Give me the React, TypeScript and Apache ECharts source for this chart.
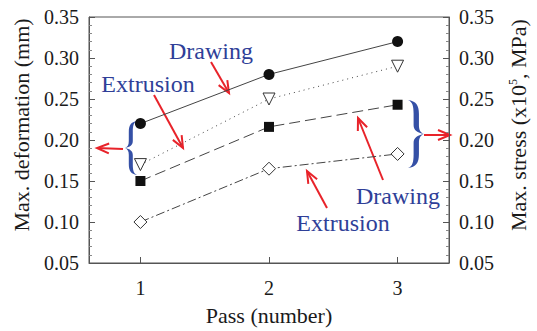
import React, { useEffect, useRef } from "react";
import * as echarts from "echarts";

// Pass numbers and measured values
const passes = [1, 2, 3];
const drawingDeformation = [0.22, 0.28, 0.32];
const extrusionDeformation = [0.17, 0.25, 0.29];
const drawingStress = [0.15, 0.216, 0.243];
const extrusionStress = [0.1, 0.165, 0.183];

const SERIF = "Liberation Serif";
const BLUE = "#2f3f98";
const BRACE = "#3550a6";
const RED = "#e8232a";
const INK = "#1a1a1a";
const LINE = "#555555";

// Curly braces drawn as filled outlines (12 x 54 unit box)
const BRACE_LEFT =
  "M12 0 C6 1 3.8 4 3.8 11 L3.8 20 C3.8 24 2.5 26 0 27 C2.5 28 3.8 30 3.8 34 L3.8 43 C3.8 50 6 53 12 54 C8.5 52.5 7.8 49 7.8 43 L7.8 34 C7.8 30 5 28 0 27 C5 26 7.8 24 7.8 20 L7.8 11 C7.8 5 8.5 1.5 12 0 Z";
const BRACE_RIGHT =
  "M0 0 C6 1 8.2 4 8.2 11 L8.2 20 C8.2 24 9.5 26 12 27 C9.5 28 8.2 30 8.2 34 L8.2 43 C8.2 50 6 53 0 54 C3.5 52.5 4.2 49 4.2 43 L4.2 34 C4.2 30 7 28 12 27 C7 26 4.2 24 4.2 20 L4.2 11 C4.2 5 3.5 1.5 0 0 Z";
echarts.graphic.registerShape("braceLeft", echarts.graphic.extendPath(BRACE_LEFT, {}));
echarts.graphic.registerShape("braceRight", echarts.graphic.extendPath(BRACE_RIGHT, {}));

function arrow(x1: number, y1: number, x2: number, y2: number) {
  const ang = Math.atan2(y2 - y1, x2 - x1);
  const L = 12;
  const W = 5;
  const c = Math.cos(ang);
  const s = Math.sin(ang);
  const bx = x2 - L * c;
  const by = y2 - L * s;
  return {
    type: "group",
    children: [
      {
        type: "line",
        shape: { x1, y1, x2, y2 },
        style: { stroke: RED, lineWidth: 2 },
      },
      {
        type: "polyline",
        shape: {
          points: [
            [bx - W * s, by + W * c],
            [x2, y2],
            [bx + W * s, by - W * c],
          ],
        },
        style: { stroke: RED, lineWidth: 2, fill: null },
      },
    ],
  };
}

function label(text: string, x: number, y: number) {
  return {
    type: "text",
    x,
    y,
    style: {
      text,
      fill: BLUE,
      font: `24px "${SERIF}"`,
      align: "center",
      verticalAlign: "middle",
    },
  };
}

const yAxisCommon = {
  type: "value",
  min: 0.05,
  max: 0.35,
  interval: 0.05,
  nameLocation: "middle",
  nameRotate: 90,
  axisLine: { show: true, lineStyle: { color: LINE, width: 1 } },
  axisTick: { show: true, inside: true, length: 6, lineStyle: { color: LINE } },
  minorTick: { show: true, splitNumber: 5, length: 3, lineStyle: { color: "#888" } },
  splitLine: { show: false },
  axisLabel: {
    color: INK,
    fontFamily: SERIF,
    fontSize: 20,
    margin: 10,
    formatter: (v: number) => v.toFixed(2),
  },
};

export default function App() {
  const ref = useRef<HTMLDivElement>(null);

  useEffect(() => {
    if (!ref.current) return;
    const chart = echarts.init(ref.current, undefined, { renderer: "svg" });
    const toPairs = (vals: number[]) => passes.map((p, i) => [p, vals[i]]);

    chart.setOption({
      animation: false,
      backgroundColor: "#ffffff",
      grid: {
        left: 89,
        right: 84,
        top: 17,
        bottom: 59,
        show: true,
        borderColor: LINE,
        borderWidth: 1,
      },
      xAxis: {
        type: "value",
        min: 0.6,
        max: 3.4,
        name: "Pass (number)",
        nameLocation: "middle",
        nameGap: 41,
        nameTextStyle: { color: INK, fontFamily: SERIF, fontSize: 22 },
        axisLine: { show: true, lineStyle: { color: LINE, width: 1 } },
        axisTick: {
          show: true,
          inside: true,
          length: 6,
          customValues: passes,
          lineStyle: { color: LINE },
        },
        splitLine: { show: false },
        axisLabel: {
          color: INK,
          fontFamily: SERIF,
          fontSize: 20,
          margin: 15,
          customValues: passes,
        },
      },
      yAxis: [
        {
          ...yAxisCommon,
          position: "left",
          name: "Max. deformation (mm)",
          nameGap: 57,
          nameTextStyle: {
            color: INK,
            fontFamily: SERIF,
            fontSize: 22,
            padding: [0, 0, 0, 30],
          },
        },
        {
          ...yAxisCommon,
          position: "right",
          name: "Max. stress (x10{sup|5}, MPa)",
          nameGap: 58,
          nameTextStyle: {
            color: INK,
            fontFamily: SERIF,
            fontSize: 22,
            padding: [0, 0, 0, 30],
            rich: {
              sup: { fontFamily: SERIF, fontSize: 12, verticalAlign: "top", color: INK },
            },
          },
        },
      ],
      series: [
        {
          name: "Drawing deformation",
          type: "line",
          data: toPairs(drawingDeformation),
          symbol: "circle",
          symbolSize: 11,
          itemStyle: { color: "#111" },
          lineStyle: { color: "#444", width: 1, type: "solid" },
          z: 3,
        },
        {
          name: "Extrusion deformation",
          type: "line",
          data: toPairs(extrusionDeformation),
          symbol: "triangle",
          symbolRotate: 180,
          symbolSize: 12,
          itemStyle: { color: "#fff", borderColor: "#333", borderWidth: 1 },
          lineStyle: { color: "#444", width: 1, type: [1, 4] },
          z: 3,
        },
        {
          name: "Drawing stress",
          type: "line",
          yAxisIndex: 1,
          data: toPairs(drawingStress),
          symbol: "rect",
          symbolSize: 10,
          itemStyle: { color: "#111" },
          lineStyle: { color: "#444", width: 1, type: [11, 5] },
          z: 3,
        },
        {
          name: "Extrusion stress",
          type: "line",
          yAxisIndex: 1,
          data: toPairs(extrusionStress),
          symbol: "diamond",
          symbolSize: 13,
          itemStyle: { color: "#fff", borderColor: "#333", borderWidth: 1 },
          lineStyle: { color: "#444", width: 1, type: [9, 3, 2, 3] },
          z: 3,
        },
      ],
      graphic: [
        label("Drawing", 211, 51),
        label("Extrusion", 148, 84),
        label("Drawing", 398, 196),
        label("Extrusion", 343, 223),
        arrow(211, 62, 229, 93),
        arrow(154, 95, 183, 148),
        arrow(123, 149, 97, 148),
        arrow(424, 135, 450, 135),
        arrow(383, 180, 358, 118),
        arrow(327, 208, 307, 171),
        {
          type: "braceLeft",
          x: 125,
          y: 121,
          scaleX: 1,
          scaleY: 1,
          style: { fill: BRACE, stroke: null },
        },
        {
          type: "braceRight",
          x: 408,
          y: 100,
          scaleX: 16 / 12,
          scaleY: 68 / 54,
          style: { fill: BRACE, stroke: null },
        },
      ],
    });

    return () => chart.dispose();
  }, []);

  return (
    <div
      ref={ref}
      style={{ position: "fixed", left: 0, top: 0, width: 537, height: 331 }}
    />
  );
}
